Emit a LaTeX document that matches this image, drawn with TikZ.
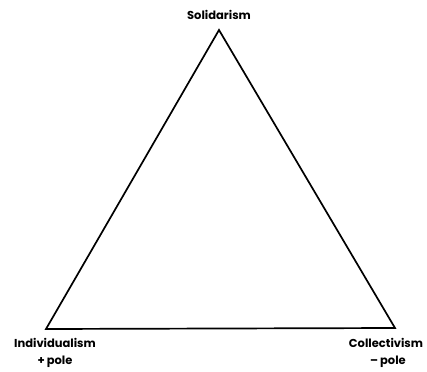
\documentclass[tikz,border=0pt]{standalone}
\usepackage{fontspec}
\setmainfont{Poppins}
\begin{document}
\begin{tikzpicture}[x=1pt,y=-1pt,
  lbl/.style={font=\fontsize{11.5}{12}\selectfont\bfseries, inner sep=0pt, align=center},
  edge/.style={draw=black, line width=1.7pt, line join=miter}]
\useasboundingbox (0,0) rectangle (427,371);
\coordinate (S) at (219,30);
\coordinate (I) at (46,329);
\coordinate (C) at (395,328);
\draw[edge] (S) -- (I) -- (C) -- cycle;
\node[lbl] (ls) at (219,15) {Solidarism};
\node[lbl] (li) at (55,343) {Individualism};
\node[lbl] (lip) at (55,362) {+\,pole};
\node[lbl] (lc) at (386,343) {Collectivism};
\node[lbl] (lcp) at (388,362) {–\,pole};
\end{tikzpicture}
\end{document}
